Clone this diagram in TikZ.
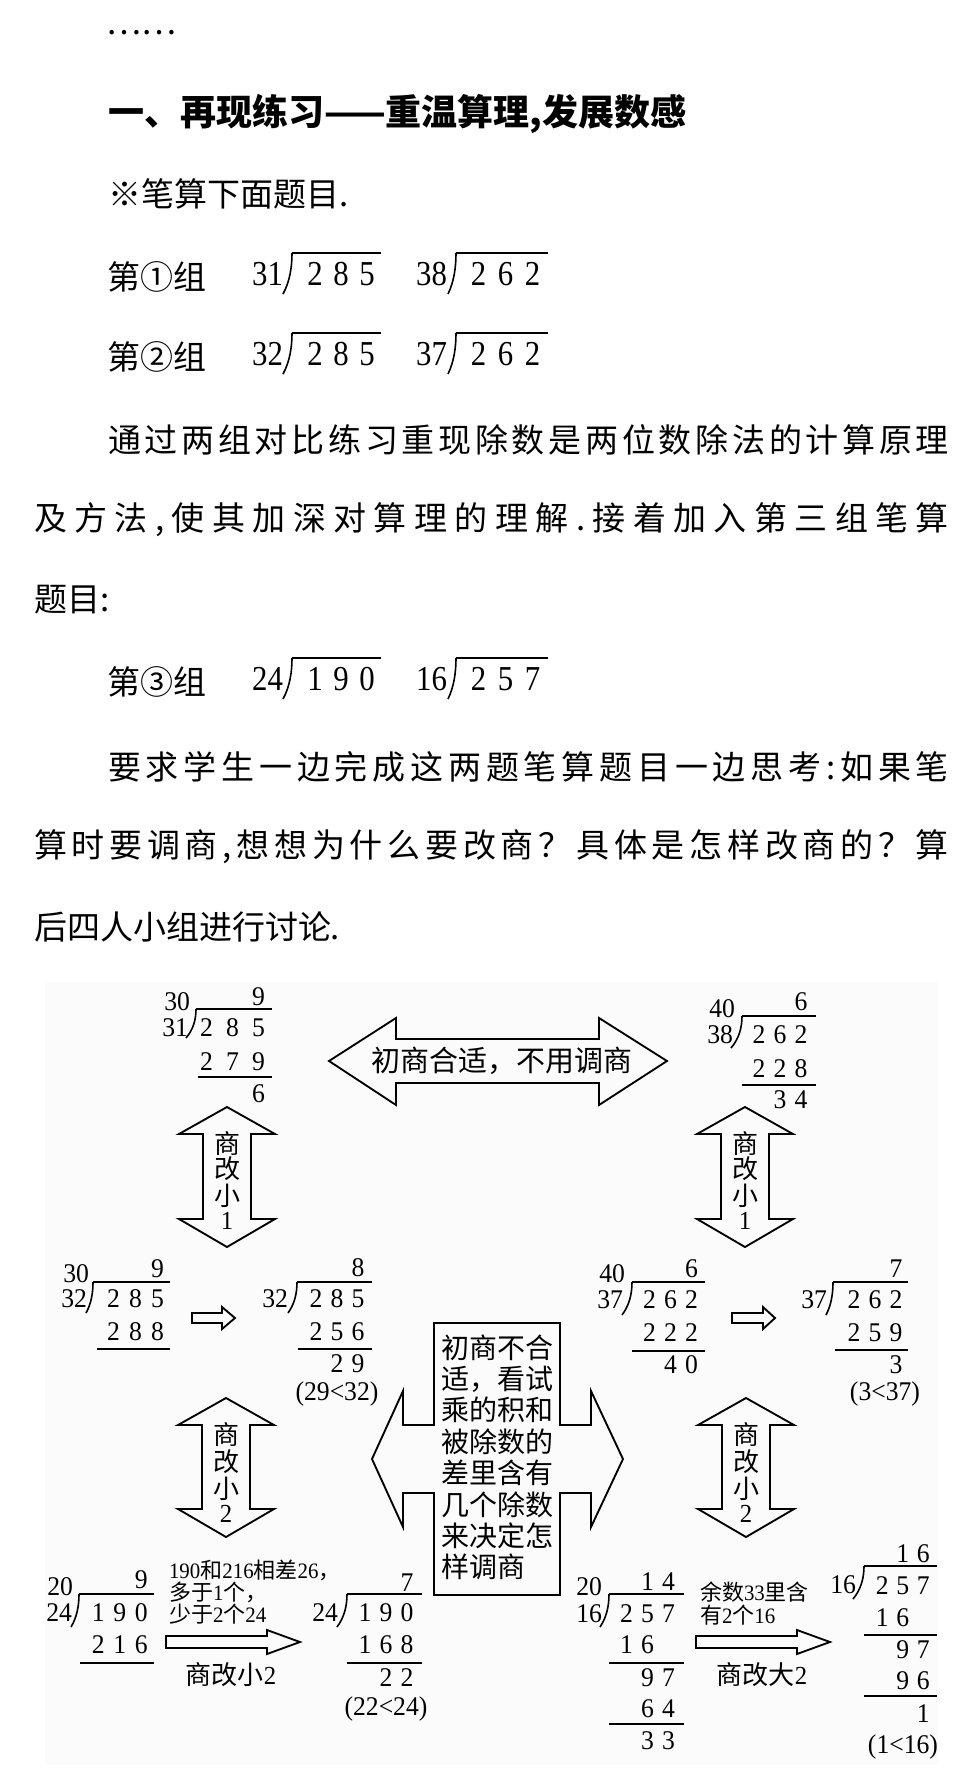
\documentclass[tikz,border=0pt]{standalone}
\usepackage{fontspec}
\setmainfont{Noto Sans CJK SC}
\newfontfamily\nf[FakeStretch=0.95]{Liberation Serif}
\newfontfamily\nt[FakeStretch=0.88]{Liberation Serif}
\newdimen\pxu \pxu=0.75pt
\makeatletter
\newcommand\Dg[2][22]{\def\rp@{#1}\Dg@x#2\relax}
\def\Dg@x#1{\ifx#1\relax\else\makebox[\rp@\pxu]{#1}\expandafter\Dg@x\fi}
\newcommand\spreadcjk[1]{\sp@x#1\sp@end}
\def\sp@x#1#2\sp@end{#1\ifx\relax#2\relax\else\hfil\sp@x#2\sp@end\fi}
\makeatother
\newcommand\nm[1]{{\nf #1}}
\newcommand\brk[4]{%
 \pgfmathsetmacro\bxa{#1+0.75*(#3-#1)}%
 \pgfmathsetmacro\bya{#2-0.3*(#2-#4)}%
 \pgfmathsetmacro\byb{#2-0.65*(#2-#4)}%
 \draw[dl] (#1,#2) .. controls (\bxa,\bya) and (#3,\byb) .. (#3,#4);}
\newcommand\vdarrow[3]{%
 \draw[fat] (#1,#2) -- (#1+48,#2+27) -- (#1+24,#2+27) -- (#1+24,#3-28) -- (#1+48,#3-28) -- (#1,#3)
   -- (#1-48,#3-28) -- (#1-24,#3-28) -- (#1-24,#2+27) -- (#1-48,#2+27) -- cycle;}
\newcommand\rarrow[6]{%
 \draw[fat] (#1,#4-#5) -- (#2,#4-#5) -- (#2,#4-#6) -- (#3,#4) -- (#2,#4+#6) -- (#2,#4+#5) -- (#1,#4+#5) -- cycle;}
\tikzset{
 every node/.style={inner sep=0pt, outer sep=0pt},
 dg/.style={font=\nf\fontsize{20.25}{20.25}\selectfont, anchor=base east},
 tdg/.style={font=\nt\fontsize{26.25}{26.25}\selectfont, anchor=base east},
 body/.style={font=\fontsize{24.75}{24.75}\selectfont, anchor=west},
 dl/.style={line width=1.2pt},
 fat/.style={draw, line width=1.4pt, line join=miter},
 vl/.style={font=\fontsize{19.5}{19.5}\selectfont, anchor=center},
 boxt/.style={font=\fontsize{21}{21}\selectfont, anchor=base west},
 lab/.style={font=\fontsize{16.5}{16.5}\selectfont, anchor=base west},
 blab/.style={font=\fontsize{19.5}{19.5}\selectfont, anchor=center},
}
\begin{document}
\begin{tikzpicture}[x=0.75pt,y=-0.75pt]
\useasboundingbox (0,0) rectangle (972,1788);
\fill[white] (0,0) rectangle (972,1788);

% ---------- text part ----------
\node[font=\fontsize{24.75}{24.75}\selectfont, anchor=center] (dots) at (141,33) {……};
\node[font=\bfseries\fontsize{27}{27}\selectfont, anchor=west] (title) at (108,114) {一、再现练习——重温算理,发展数感};
\node[body] (t1) at (108,194) {※笔算下面题目.};

\node[body] (grp1) at (107,277) {第①组};
\node[tdg] (g1a) at (283,285) {31};
\brk{283}{294}{292}{253}
\draw[dl] (292,253) -- (381,253);
\node[tdg] (g1b) at (380,285) {\Dg[26]{285}};
\node[tdg] (g1c) at (447,285) {38};
\brk{448}{294}{456}{253}
\draw[dl] (456,253) -- (548,253);
\node[tdg] (g1d) at (546,285) {\Dg[27]{262}};

\node[body] (grp2) at (107,357) {第②组};
\node[tdg] (g2a) at (283,365) {32};
\brk{283}{374}{292}{333}
\draw[dl] (292,333) -- (381,333);
\node[tdg] (g2b) at (380,365) {\Dg[26]{285}};
\node[tdg] (g2c) at (447,365) {37};
\brk{448}{374}{456}{333}
\draw[dl] (456,333) -- (548,333);
\node[tdg] (g2d) at (546,365) {\Dg[27]{262}};

\node[body] (p1) at (108,440) {\makebox[841\pxu][s]{\spreadcjk{通过两组对比练习重现除数是两位数除法的计算原理}}};
\node[body] (p2) at (34,520) {\makebox[915\pxu][s]{\spreadcjk{及方法,使其加深对算理的理解.接着加入第三组笔算}}};
\node[body] (p3) at (34,600) {题目:};

\node[body] (grp3) at (107,682) {第③组};
\node[tdg] (g3a) at (283,690) {24};
\brk{283}{699}{292}{658}
\draw[dl] (292,658) -- (381,658);
\node[tdg] (g3b) at (380,690) {\Dg[26]{190}};
\node[tdg] (g3c) at (447,690) {16};
\brk{448}{699}{456}{658}
\draw[dl] (456,658) -- (548,658);
\node[tdg] (g3d) at (546,690) {\Dg[27]{257}};

\node[body] (q1) at (108,767) {\makebox[841\pxu][s]{\spreadcjk{要求学生一边完成这两题笔算题目一边思考:如果笔}}};
\node[body] (q2) at (34,847) {\makebox[915\pxu][s]{\spreadcjk{算时要调商,想想为什么要改商？具体是怎样改商的？算}}};
\node[body] (q3) at (34,927) {后四人小组进行讨论.};

% ---------- diagram ----------
\fill[black!1.5] (45,982) rectangle (938,1765);

% top double arrow
\draw[fat] (329,1061) -- (396,1018) -- (396,1039) -- (599,1039) -- (599,1018) -- (667,1061)
  -- (599,1105) -- (599,1083) -- (396,1083) -- (396,1105) -- cycle;
\node[font=\fontsize{21.75}{21.75}\selectfont] (ta) at (502,1061) {初商合适，不用调商};

% vertical arrows
\vdarrow{227}{1107}{1247}
\vdarrow{745}{1107}{1247}
\vdarrow{226}{1398}{1537}
\vdarrow{746}{1398}{1537}
\foreach \cx/\nn in {227/ul,745/ur}{
  \foreach \t/\yy/\k in {商/1144/1,改/1169/2,小/1196/3,{\nm{1}}/1221/4}
    \node[vl] (\nn\k) at (\cx,\yy) {\t};
}
\foreach \cx/\nn in {226/ll,746/lr}{
  \foreach \t/\yy/\k in {商/1435/1,改/1462/2,小/1489/3,{\nm{2}}/1514/4}
    \node[vl] (\nn\k) at (\cx,\yy) {\t};
}

% center four-way box
\draw[fat] (434,1323) -- (560,1323) -- (560,1425) -- (591,1425) -- (591,1391) -- (623,1459)
  -- (591,1527) -- (591,1493) -- (560,1493) -- (560,1595) -- (434,1595) -- (434,1493)
  -- (403,1493) -- (403,1527) -- (372,1459) -- (403,1391) -- (403,1425) -- (434,1425) -- cycle;
\foreach \t [count=\k] in {初商不合,{适，看试},乘的积和,被除数的,差里含有,几个除数,来决定怎,样调商}
  \node[boxt] (bx\k) at (441,{1358+31.4*(\k-1)}) {\t};

% small arrows
\rarrow{192}{222}{235}{1318}{5}{11}
\rarrow{732}{763}{775}{1318}{5}{11}
\rarrow{166}{267}{300}{1642}{6}{12}
\rarrow{696}{797}{830}{1642}{6}{12}

% Block A
\node[dg] (a0) at (190,1010) {30};
\node[dg] (aq) at (271.5,1005) {\Dg[26]{9}};
\draw[dl] (196,1009) -- (272,1009);
\node[dg] (ad) at (188,1036) {31};
\brk{186}{1038}{196}{1009}
\node[dg] (a1) at (271.5,1036) {\Dg[26]{285}};
\node[dg] (a2) at (271.5,1070) {\Dg[26]{279}};
\draw[dl] (198,1077) -- (272,1077);
\node[dg] (a3) at (271.5,1102) {\Dg[26]{6}};

% Block B
\node[dg] (b0) at (735,1017) {40};
\node[dg] (bq) at (811.5,1010) {\Dg[21]{6}};
\draw[dl] (742,1016) -- (816,1016);
\node[dg] (bd) at (733,1043) {38};
\brk{731}{1048}{742}{1016}
\node[dg] (b1) at (811.5,1043) {\Dg[21]{262}};
\node[dg] (b2) at (811.5,1077) {\Dg[21]{228}};
\draw[dl] (742,1085) -- (816,1085);
\node[dg] (b3) at (811.5,1108) {\Dg[21]{34}};

% Block C
\node[dg] (c0) at (89,1282) {30};
\node[dg] (cq) at (168.5,1277) {\Dg[22]{9}};
\draw[dl] (93,1282) -- (170,1282);
\node[dg] (cd) at (87,1307) {32};
\brk{86}{1313}{93}{1282}
\node[dg] (c1) at (168.5,1307) {\Dg[22]{285}};
\node[dg] (c2) at (168.5,1340) {\Dg[22]{288}};
\draw[dl] (97,1349) -- (170,1349);

% Block D
\node[dg] (dq) at (368.5,1276) {\Dg[21]{8}};
\draw[dl] (297,1282) -- (372,1282);
\node[dg] (dd) at (288,1307) {32};
\brk{288}{1313}{297}{1282}
\node[dg] (d1) at (368.5,1307) {\Dg[21]{285}};
\node[dg] (d2) at (368.5,1340) {\Dg[21]{256}};
\draw[dl] (298,1349) -- (372,1349);
\node[dg] (d3) at (368.5,1372) {\Dg[21]{29}};
\node[dg, anchor=base] (d4) at (337,1400) {(29<32)};

% Block E
\node[dg] (e0) at (625,1282) {40};
\node[dg] (eq) at (702,1277) {\Dg[21]{6}};
\draw[dl] (632,1282) -- (705,1282);
\node[dg] (ed) at (623,1308) {37};
\brk{622}{1315}{632}{1282}
\node[dg] (e1) at (702,1308) {\Dg[21]{262}};
\node[dg] (e2) at (702,1341) {\Dg[21]{222}};
\draw[dl] (632,1351) -- (705,1351);
\node[dg] (e3) at (702,1373) {\Dg[21]{40}};

% Block F
\node[dg] (fq) at (906.5,1277) {\Dg[21]{7}};
\draw[dl] (833,1282) -- (908,1282);
\node[dg] (fd) at (827,1308) {37};
\brk{826}{1315}{833}{1282}
\node[dg] (f1) at (906.5,1308) {\Dg[21]{262}};
\node[dg] (f2) at (906.5,1341) {\Dg[21]{259}};
\draw[dl] (835,1350) -- (908,1350);
\node[dg] (f3) at (906.5,1373) {\Dg[21]{3}};
\node[dg, anchor=base] (f4) at (885,1400) {(3<37)};

% Block I
\node[dg] (i0) at (73,1595) {20};
\node[dg] (iq) at (152,1588) {\Dg[21.5]{9}};
\draw[dl] (79,1594) -- (154,1594);
\node[dg] (id) at (72,1621) {24};
\brk{71}{1627}{79}{1594}
\node[dg] (i1) at (152,1621) {\Dg[21.5]{190}};
\node[dg] (i2) at (152,1653) {\Dg[21.5]{216}};
\draw[dl] (80,1663) -- (154,1663);

% Block J
\node[dg] (jq) at (417.5,1591) {\Dg[21]{7}};
\draw[dl] (347,1594) -- (422,1594);
\node[dg] (jd) at (338,1621) {24};
\brk{337}{1627}{347}{1594}
\node[dg] (j1) at (417.5,1621) {\Dg[21]{190}};
\node[dg] (j2) at (417.5,1653) {\Dg[21]{168}};
\draw[dl] (347,1663) -- (422,1663);
\node[dg] (j3) at (417.5,1686) {\Dg[21]{22}};
\node[dg, anchor=base] (j4) at (386,1715) {(22<24)};

% Block G
\node[dg] (gg0) at (602,1595) {20};
\node[dg] (ggq) at (679,1590) {\Dg[21]{14}};
\draw[dl] (609,1594) -- (684,1594);
\node[dg] (ggd) at (602,1622) {16};
\brk{600}{1627}{609}{1594}
\node[dg] (gg1) at (679,1622) {\Dg[21]{257}};
\node[dg] (gg2) at (658,1653) {\Dg[21]{16}};
\draw[dl] (609,1663) -- (684,1663);
\node[dg] (gg3) at (679,1686) {\Dg[21]{97}};
\node[dg] (gg4) at (679,1717) {\Dg[21]{64}};
\draw[dl] (609,1724) -- (684,1724);
\node[dg] (gg5) at (679,1749) {\Dg[21]{33}};

% Block H
\node[dg] (hq) at (933.5,1562) {\Dg[20.5]{16}};
\draw[dl] (864,1566) -- (937,1566);
\node[dg] (hd) at (856,1593) {16};
\brk{853}{1599}{864}{1566}
\node[dg] (h1) at (933.5,1594) {\Dg[20.5]{257}};
\node[dg] (h2) at (913,1626) {\Dg[20.5]{16}};
\draw[dl] (864,1635) -- (937,1635);
\node[dg] (h3) at (933.5,1658) {\Dg[20.5]{97}};
\node[dg] (h4) at (933.5,1689) {\Dg[20.5]{96}};
\draw[dl] (864,1696) -- (937,1696);
\node[dg] (h5) at (933.5,1722) {\Dg[20.5]{1}};
\node[dg, anchor=base] (h6) at (903,1753) {(1<16)};

% labels
\node[lab] (la1) at (169,1578) {\nm{190}和\nm{216}相差\nm{26}，};
\node[lab] (la2) at (169,1600) {多于\nm{1}个，};
\node[lab] (la3) at (169,1622) {少于\nm{2}个\nm{24}};
\node[blab] (la4) at (231,1675) {商改小\nm{2}};
\node[lab] (lb1) at (700,1600) {余数\nm{33}里含};
\node[lab] (lb2) at (700,1623) {有\nm{2}个\nm{16}};
\node[blab] (lb4) at (762,1675) {商改大\nm{2}};
\end{tikzpicture}
\end{document}
